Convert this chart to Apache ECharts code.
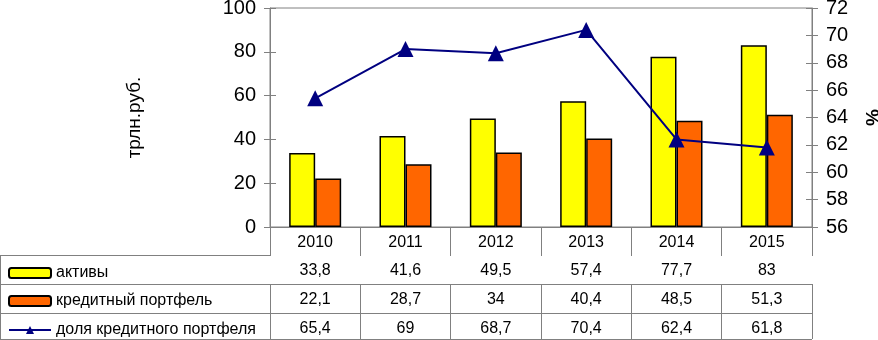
<!DOCTYPE html>
<html>
<head>
<meta charset="utf-8">
<script src="https://cdn.jsdelivr.net/npm/echarts@6/dist/echarts.min.js"></script>
<style>
  html, body { margin: 0; padding: 0; background: #fff; }
  #chart { width: 878px; height: 340px; }
</style>
</head>
<body>
<div id="chart"></div>
<script>
// данные
var years = ['2010', '2011', '2012', '2013', '2014', '2015'];
var aktivy = [33.8, 41.6, 49.5, 57.4, 77.7, 83];
var portfel = [22.1, 28.7, 34, 40.4, 48.5, 51.3];
var dolya = [65.4, 69, 68.7, 70.4, 62.4, 61.8];

var names = ['активы', 'кредитный портфель', 'доля кредитного портфеля'];

var fmt = function (v) { return String(v).replace('.', ','); };

var FONT = 'Liberation Sans';
var lineCol = '#808080';

// строка таблицы под графиком = ещё одна категориальная ось
function tableAxis(data, offset, tickLen) {
  return {
    type: 'category',
    position: 'bottom',
    offset: offset,
    data: data,
    axisLine: { show: true, lineStyle: { color: lineCol, width: 1 } },
    axisTick: { show: true, interval: 0, length: tickLen, lineStyle: { color: lineCol } },
    axisLabel: { interval: 0, margin: 8, color: '#000', fontSize: 16, fontFamily: FONT },
    splitLine: { show: false }
  };
}

// ось значений; inner = копия только для засечек внутрь (крестовые засечки)
function valueAxis(min, max, step, pos, inner) {
  return {
    type: 'value', min: min, max: max, interval: step, position: pos,
    axisLine: { show: !inner, lineStyle: { color: lineCol } },
    axisTick: { show: true, inside: !!inner, length: 6, lineStyle: { color: lineCol } },
    axisLabel: { show: !inner, color: '#000', fontSize: 20, fontFamily: FONT, margin: 14 },
    splitLine: { show: false }
  };
}

function legendRow(name, top) {
  return {
    orient: 'vertical', left: 3, top: top,
    itemWidth: 42, itemHeight: 10,
    textStyle: { color: '#000', fontSize: 16, fontFamily: FONT },
    data: [name]
  };
}

var yLeft = valueAxis(0, 100, 20, 'left');
yLeft.name = 'трлн.руб.';
yLeft.nameLocation = 'middle';
yLeft.nameRotate = 90;
yLeft.nameGap = 126;
yLeft.nameTextStyle = { color: '#000', fontSize: 19, fontFamily: FONT };

var yRight = valueAxis(56, 72, 2, 'right');
yRight.name = '%';
yRight.nameLocation = 'middle';
yRight.nameRotate = 90;
yRight.nameGap = 52;
yRight.nameTextStyle = { color: '#000', fontSize: 19, fontWeight: 'bold', fontFamily: FONT };

var myChart = echarts.init(document.getElementById('chart'));
myChart.setOption({
  animation: false,
  backgroundColor: '#fff',
  textStyle: { fontFamily: FONT },
  grid: {
    left: 270, right: 66, top: 8, bottom: 113,
    containLabel: false, outerBoundsMode: 'none',
    show: true, borderColor: lineCol, borderWidth: 1
  },
  legend: [
    legendRow(names[0], 260),
    legendRow(names[1], 288),
    legendRow(names[2], 317)
  ],
  xAxis: [
    tableAxis(years, 0, 28),
    tableAxis(aktivy.map(fmt), 28, 29),
    tableAxis(portfel.map(fmt), 57, 29),
    tableAxis(dolya.map(fmt), 86, 26)
  ],
  yAxis: [
    yLeft,
    yRight,
    valueAxis(0, 100, 20, 'left', true),
    valueAxis(56, 72, 2, 'right', true)
  ],
  series: [
    {
      name: names[0], type: 'bar', xAxisIndex: 0, yAxisIndex: 0,
      barWidth: 26, barGap: '0%',
      itemStyle: { color: '#ffff00', borderColor: '#000', borderWidth: 1.5 },
      data: aktivy
    },
    {
      name: names[1], type: 'bar', xAxisIndex: 0, yAxisIndex: 0,
      barWidth: 26, barGap: '0%',
      itemStyle: { color: '#ff6600', borderColor: '#000', borderWidth: 1.5 },
      data: portfel
    },
    {
      name: names[2], type: 'line', xAxisIndex: 0, yAxisIndex: 1,
      symbol: 'triangle', symbolSize: 16,
      lineStyle: { color: '#000080', width: 2 },
      itemStyle: { color: '#000080' },
      z: 5,
      data: dolya
    }
  ],
  // левая часть таблицы (колонка легенды)
  graphic: [
    { type: 'line', shape: { x1: 0.5, y1: 255, x2: 0.5, y2: 340 }, style: { stroke: lineCol, lineWidth: 1 } },
    { type: 'line', shape: { x1: 0, y1: 255.5, x2: 270, y2: 255.5 }, style: { stroke: lineCol, lineWidth: 1 } },
    { type: 'line', shape: { x1: 0, y1: 284.5, x2: 270, y2: 284.5 }, style: { stroke: lineCol, lineWidth: 1 } },
    { type: 'line', shape: { x1: 0, y1: 313.5, x2: 270, y2: 313.5 }, style: { stroke: lineCol, lineWidth: 1 } },
    { type: 'line', shape: { x1: 0, y1: 339.5, x2: 812, y2: 339.5 }, style: { stroke: lineCol, lineWidth: 1 } }
  ]
});
</script>
</body>
</html>
